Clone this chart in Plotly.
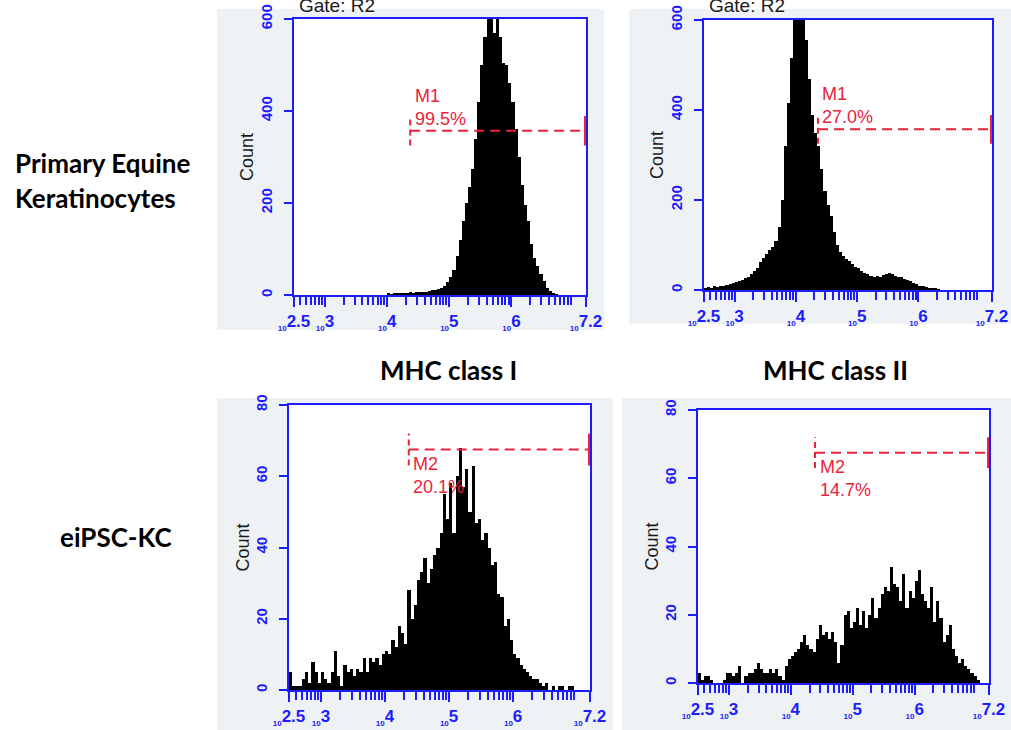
import plotly.graph_objects as go
import math

# ---------------- data ----------------
BIN = 0.05  # histogram bin width in log10 units

P1_START = 4.0   # Primary keratinocytes, MHC class I
P1_COUNTS = [3, 2, 4, 3, 4, 5, 4, 6, 5, 6, 7, 6, 7, 8, 10, 11, 14, 16, 19, 28,
             40, 55, 85, 120, 160, 200, 235, 275, 340, 420, 500, 560, 620, 640, 570,
             630, 560, 505, 500, 460, 420, 360, 300, 240, 195, 160, 110, 80, 62, 45,
             30, 16, 9, 4, 2]

P2_START = 2.5   # Primary keratinocytes, MHC class II
P2_COUNTS = [4, 6, 5, 8, 7, 9, 10, 12, 14, 16, 18, 20, 22, 26, 30, 36, 42, 50, 62, 72,
             80, 88, 95, 110, 140, 200, 320, 415, 515, 600, 660, 700, 650, 555, 470,
             390, 350, 320, 270, 220, 190, 165, 130, 100, 85, 75, 68, 64, 58, 52,
             48, 42, 38, 35, 32, 30, 32, 30, 34, 36, 38, 36, 32, 30, 28, 25, 22, 20,
             16, 13, 10, 8, 6, 5, 4, 3, 2]

P3_START = 2.5   # eiPSC-KC, MHC class I
P3_COUNTS = [5, 1, 1, 1, 3, 5, 2, 8, 5, 2, 5, 3, 2, 5, 11, 4, 1, 7, 5, 6,
             4, 6, 5, 9, 5, 9, 8, 9, 7, 10, 11, 10, 14, 12, 18, 16, 13, 28, 20, 24,
             31, 33, 37, 30, 34, 38, 40, 44, 55, 48, 58, 44, 60, 68, 57, 62, 50, 63, 47, 48,
             42, 44, 40, 35, 36, 27, 26, 18, 20, 14, 10, 9, 7, 6, 5, 4, 3, 3, 2, 1,
             2, 0, 1, 0, 1, 1, 0, 1, 1, 0]

P4_START = 2.5   # eiPSC-KC, MHC class II
P4_COUNTS = [3, 1, 2, 2, 1, 0, 0, 0, 1, 3, 3, 2, 3, 5, 0, 2, 3, 3, 4, 6,
             4, 3, 3, 4, 3, 4, 2, 1, 5, 7, 8, 9, 10, 12, 14, 11, 10, 9, 13, 17,
             14, 15, 13, 15, 12, 6, 11, 20, 21, 16, 18, 22, 17, 21, 16, 20, 25, 19, 22, 26,
             28, 27, 34, 29, 28, 24, 32, 22, 27, 25, 30, 33, 26, 24, 22, 28, 18, 24, 19, 12,
             14, 17, 10, 8, 6, 7, 5, 4, 3, 2, 1]

MARKER_NAMES = ["M1", "M1", "M2", "M2"]
MARKER_PCTS = ["99.5%", "27.0%", "20.1%", "14.7%"]
MARKER_START = [4.37, 4.36, 4.37, 4.39]
MARKER_LEVEL = [357, 357, 67.5, 67.5]
MARKER_HALF = [32, 32, 4.5, 4.5]

X_TICKVALS = [2.5, 3, 4, 5, 6, 7.2]
X_EXPONENTS = ["2.5", "3", "4", "5", "6", "7.2"]
Y_TOP_TICKS = [0, 200, 400, 600]
Y_BOT_TICKS = [0, 20, 40, 60, 80]

# ---------------- styling ----------------
W, H = 1011, 730
BLUE = "#1c1cff"
RED = "#e8243c"
GRAY = "#eef2f5"
XMIN, XMAX = 2.5, 7.2


def X(px):
    return px / W


def Y(py):
    return 1 - py / H


panels = [
    dict(start=P1_START, counts=P1_COUNTS, dom=(294, 586, 19, 295), ymax=600, yticks=Y_TOP_TICKS,
         bg=(217, 604, 9, 330), gate="Gate: R2"),
    dict(start=P2_START, counts=P2_COUNTS, dom=(704, 992, 20, 290), ymax=600, yticks=Y_TOP_TICKS,
         bg=(629, 1011, 9, 324), gate="Gate: R2"),
    dict(start=P3_START, counts=P3_COUNTS, dom=(289, 590, 405, 690), ymax=80, yticks=Y_BOT_TICKS,
         bg=(217, 613, 398, 730), gate=None),
    dict(start=P4_START, counts=P4_COUNTS, dom=(698, 989, 410, 683), ymax=80, yticks=Y_BOT_TICKS,
         bg=(622, 1011, 398, 730), gate=None),
]

minor_vals = []
for n in range(2, 8):
    for k in range(2, 10):
        v = n + math.log10(k)
        if XMIN < v < XMAX:
            minor_vals.append(v)

ticktext = ["<sub><span style='font-size:8px'>10</span></sub>" + e for e in X_EXPONENTS]

fig = go.Figure()
shapes = []
annotations = []
layout = {}

for i, p in enumerate(panels):
    n = i + 1
    xa = "x" if n == 1 else f"x{n}"
    ya = "y" if n == 1 else f"y{n}"
    xkey = "xaxis" if n == 1 else f"xaxis{n}"
    ykey = "yaxis" if n == 1 else f"yaxis{n}"
    x0, x1, y0, y1 = p["dom"]

    centers = [p["start"] + (j + 0.5) * BIN for j in range(len(p["counts"]))]
    fig.add_trace(go.Bar(x=centers, y=p["counts"], width=BIN, xaxis=xa, yaxis=ya,
                         marker=dict(color="black", line=dict(width=0)), showlegend=False,
                         hoverinfo="skip"))

    # marker (gate range) drawn in data coordinates
    ms, ml, mh = MARKER_START[i], MARKER_LEVEL[i], MARKER_HALF[i]
    xr = XMAX - 0.012
    fig.add_trace(go.Scatter(x=[ms, xr], y=[ml, ml], mode="lines", xaxis=xa, yaxis=ya,
                             line=dict(color=RED, width=2, dash="10px,6px"), showlegend=False,
                             hoverinfo="skip"))
    fig.add_trace(go.Scatter(x=[ms, ms], y=[ml - mh, ml + mh], mode="lines", xaxis=xa, yaxis=ya,
                             line=dict(color=RED, width=2, dash="6px,4px"), showlegend=False,
                             hoverinfo="skip"))
    fig.add_trace(go.Scatter(x=[xr, xr], y=[ml - mh, ml + mh], mode="lines", xaxis=xa, yaxis=ya,
                             line=dict(color=RED, width=2.5), showlegend=False, hoverinfo="skip"))
    top = n <= 2
    annotations.append(dict(xref=xa, yref=ya, x=ms + 0.04, y=ml,
                            xanchor="left", yanchor="bottom" if top else "top",
                            yshift=0 if top else -2, align="left", showarrow=False,
                            text=f"{MARKER_NAMES[i]}<br>{MARKER_PCTS[i]}",
                            font=dict(family="Liberation Sans, Arial", size=18, color=RED)))

    layout[xkey] = dict(domain=[X(x0), X(x1)], anchor=ya, range=[XMIN, XMAX], automargin=False,
                        tickmode="array", tickvals=X_TICKVALS, ticktext=ticktext,
                        ticks="outside", ticklen=10, tickwidth=1.5, tickcolor=BLUE,
                        minor=dict(tickmode="array", tickvals=minor_vals, ticks="outside",
                                   ticklen=8, tickwidth=1.5, tickcolor=BLUE),
                        showline=True, linecolor=BLUE, linewidth=2, mirror=True,
                        showgrid=False, zeroline=False, fixedrange=True,
                        tickfont=dict(family="Liberation Sans, Arial", size=17, color=BLUE,
                                      weight="bold"))
    layout[ykey] = dict(domain=[Y(y1), Y(y0)], anchor=xa, range=[0, p["ymax"]], automargin=False,
                        tickmode="array", tickvals=p["yticks"], tickangle=-90,
                        ticks="outside", ticklen=8, tickwidth=1.5, tickcolor=BLUE,
                        ticklabelstandoff=6,
                        showline=True, linecolor=BLUE, linewidth=2, mirror=True,
                        showgrid=False, zeroline=False, fixedrange=True,
                        tickfont=dict(family="Liberation Sans, Arial", size=15, color=BLUE,
                                      weight="bold"))

    # grey panel background and white plotting area
    bx0, bx1, by0, by1 = p["bg"]
    shapes.append(dict(type="rect", xref="paper", yref="paper", x0=X(bx0), x1=X(bx1),
                       y0=Y(by1), y1=Y(by0), fillcolor=GRAY, line=dict(width=0), layer="below"))
    shapes.append(dict(type="rect", xref=f"{xa} domain", yref=f"{ya} domain", x0=0, x1=1,
                       y0=0, y1=1, fillcolor="white", line=dict(width=0), layer="below"))

    # y-axis title
    annotations.append(dict(xref="paper", yref="paper", x=X(x0 - 47), y=Y((y0 + y1) / 2),
                            text="Count", textangle=-90, showarrow=False,
                            xanchor="center", yanchor="middle",
                            font=dict(family="Liberation Sans, Arial", size=18, color="#1a1a1a")))
    if p["gate"]:
        annotations.append(dict(xref="paper", yref="paper", x=X(x0 + 3), y=Y(6),
                                text=p["gate"], showarrow=False, xanchor="left", yanchor="middle",
                                font=dict(family="Liberation Sans, Arial", size=19,
                                          color="#1a1a1a")))

# slide labels
LBL = dict(family="Lato, Carlito, Calibri", size=26, color="black", weight="bold")
annotations += [
    dict(xref="paper", yref="paper", x=X(13), y=Y(163), text="Primary Equine",
         xanchor="left", yanchor="middle", showarrow=False, font=LBL),
    dict(xref="paper", yref="paper", x=X(13), y=Y(198), text="Keratinocytes",
         xanchor="left", yanchor="middle", showarrow=False, font=LBL),
    dict(xref="paper", yref="paper", x=X(448), y=Y(370), text="MHC class I",
         xanchor="center", yanchor="middle", showarrow=False, font=LBL),
    dict(xref="paper", yref="paper", x=X(835), y=Y(370), text="MHC class II",
         xanchor="center", yanchor="middle", showarrow=False, font=LBL),
    dict(xref="paper", yref="paper", x=X(58), y=Y(537), text="eiPSC-KC",
         xanchor="left", yanchor="middle", showarrow=False, font=LBL),
]

fig.update_layout(width=W, height=H,
                  margin=dict(l=0, r=0, t=0, b=0, pad=0, autoexpand=False),
                  paper_bgcolor="white", plot_bgcolor="rgba(0,0,0,0)",
                  bargap=0, barmode="overlay", shapes=shapes, annotations=annotations,
                  showlegend=False, **layout)

fig.write_html("out.html", config={"displayModeBar": False})
